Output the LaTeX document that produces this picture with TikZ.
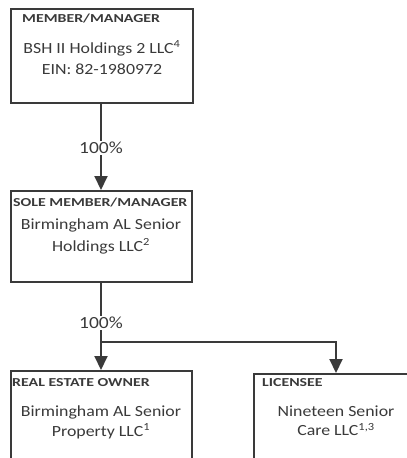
\documentclass[tikz,border=0pt]{standalone}
\usepackage{fontspec}
\setmainfont{Carlito}[FakeStretch=1.15]
\newfontfamily\captionfont{Carlito}[FakeStretch=1.3]
\usetikzlibrary{positioning, arrows.meta}
\definecolor{ink}{HTML}{3A3A3A}
\tikzset{
x=1pt, y=-1pt, % one unit per pixel, y runs downwards
>={Triangle[width=13pt,length=14pt]}, % solid arrow heads
box/.style={draw=ink, line width=2pt, anchor=north west, inner sep=0pt}, % entity frame
head/.style={text=ink, font=\captionfont\bfseries\fontsize{12.2}{14}\selectfont, anchor=west, inner sep=0pt}, % role caption
body/.style={text=ink, font=\fontsize{15.5}{21}\selectfont, align=center, inner sep=0pt}, % entity name
pct/.style={text=ink, font=\fontsize{17}{19}\selectfont, inner sep=1pt}, % ownership share
link/.style={draw=ink, line width=2pt}, % ownership line
}

\begin{document}
\begin{tikzpicture}
        \path[use as bounding box, clip] (0,0) rectangle (407,458);

        % frames
        \node[box, minimum width=182pt, minimum height=94pt ] (member)   at (10,8)   {};
        \node[box, minimum width=181pt, minimum height=91pt ] (sole)     at (10,190) {};
        \node[box, minimum width=181pt, minimum height=130pt] (owner)    at (10,370) {};
        \node[box, minimum width=183pt, minimum height=130pt] (licensee) at (253,373) {};

        % captions
        \node[head] (memberhead)   at (22,18)  {MEMBER/MANAGER};
        \node[head] (solehead)     at (13,202) {SOLE MEMBER/MANAGER};
        \node[head] (ownerhead)    at (12,383) {REAL ESTATE OWNER};
        \node[head] (licenseehead) at (262,383) {LICENSEE};

        % names
        \node[body] (membertext)   at (102,57.5) {BSH II Holdings 2 LLC\textsuperscript{4}\\EIN: 82-1980972};
        \node[body] (soletext)     at (101,236)  {Birmingham AL Senior\\[1pt]Holdings LLC\textsuperscript{2}};
        \node[body] (ownertext)    at (101,422)  {Birmingham AL Senior\\[-1pt]Property LLC\textsuperscript{1}};
        \node[body] (licenseetext) at (336,421)  {Nineteen Senior\\[-2pt]Care LLC\textsuperscript{1,3}};

        % shares
        \node[pct] (pct1) at (101,148) {100\%};
        \node[pct] (pct2) at (101,323) {100\%};
        \coordinate (split) at (101,342);
        \coordinate (turn)  at (336,342);

        \draw[link] (pct1 |- member.south) -- (pct1);
        \draw[link, ->] (pct1) -- (pct1 |- sole.north);
        \draw[link] (pct2 |- sole.south) -- (pct2);
        \draw[link, ->] (pct2) -- (pct2 |- owner.north);
        \draw[link, ->] (split) -- (turn) -- (turn |- licensee.north);
\end{tikzpicture}
\end{document}
